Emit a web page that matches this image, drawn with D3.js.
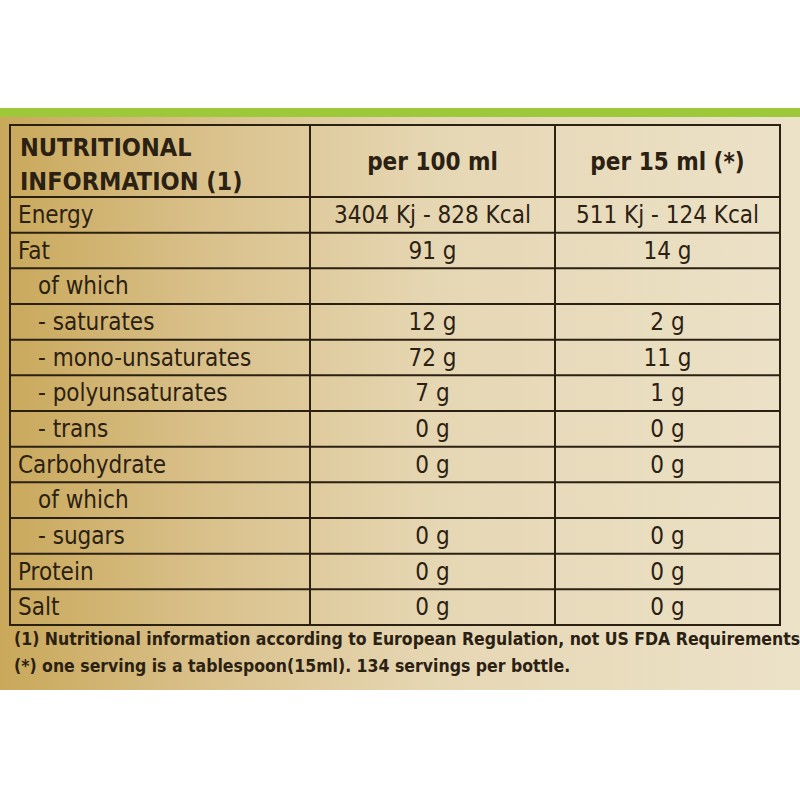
<!DOCTYPE html>
<html><head><meta charset="utf-8">
<script src="https://cdn.jsdelivr.net/npm/d3@7"></script>
<style>body{margin:0;background:#fff}</style></head>
<body><svg id="c" width="800" height="800"></svg>
<script>
const headers = ["NUTRITIONAL|INFORMATION (1)", "per 100 ml", "per 15 ml (*)"];
const labels = ["Energy","Fat","  of which","  - saturates","  - mono-unsaturates","  - polyunsaturates","  - trans","Carbohydrate","  of which","  - sugars","Protein","Salt"];
const per100 = ["3404 Kj - 828 Kcal","91 g","","12 g","72 g","7 g","0 g","0 g","","0 g","0 g","0 g"];
const per15 = ["511 Kj - 124 Kcal","14 g","","2 g","11 g","1 g","0 g","0 g","","0 g","0 g","0 g"];
const notes = ["(1) Nutritional information according to European Regulation, not US FDA Requirements.","(*) one serving is a tablespoon(15ml). 134 servings per bottle."];

const svg = d3.select("#c");
const defs = svg.append("defs");
const g = defs.append("linearGradient").attr("id","bg");
[["0%","#c9a85a"],["25%","#d9c08a"],["55%","#e6d7b4"],["100%","#ece2c8"]].forEach(s=>g.append("stop").attr("offset",s[0]).attr("stop-color",s[1]));
svg.append("rect").attr("x",0).attr("y",108).attr("width",800).attr("height",10).attr("fill","#9cc83a");
svg.append("rect").attr("x",0).attr("y",117).attr("width",800).attr("height",573).attr("fill","url(#bg)");

const ink = "#2b2112";
const colX = [10, 310, 555, 780];
const y = d3.scaleBand().domain(d3.range(labels.length)).range([197, 625]);
const tableTop = 125;
const L = svg.append("g").attr("stroke",ink).attr("stroke-width",2).attr("fill","none");
L.append("rect").attr("x",colX[0]).attr("y",tableTop).attr("width",colX[3]-colX[0]).attr("height",625-tableTop);
colX.slice(1,3).forEach(x=>L.append("line").attr("x1",x).attr("x2",x).attr("y1",tableTop).attr("y2",625));
d3.range(labels.length).forEach(i=>L.append("line").attr("x1",colX[0]).attr("x2",colX[3]).attr("y1",y(i)).attr("y2",y(i)));

const font = "'DejaVu Sans Condensed','DejaVu Sans',sans-serif";
const T = svg.append("g").attr("fill",ink).style("font-family",font);
headers[0].split("|").forEach((s,k)=>T.append("text").attr("x",20).attr("y",156+k*34).attr("font-size",25).attr("font-weight","bold").text(s));
[1,2].forEach(c=>T.append("text").attr("x",(colX[c]+colX[c+1])/2).attr("y",170).attr("text-anchor","middle").attr("font-size",24).attr("font-weight","bold").text(headers[c]));
labels.forEach((s,i)=>{
  const yy = y(i)+y.bandwidth()/2+8;
  const ind = s.startsWith("  ");
  T.append("text").attr("x",ind?38:18).attr("y",yy).attr("font-size",24).text(s.trim());
  T.append("text").attr("x",(colX[1]+colX[2])/2).attr("y",yy).attr("text-anchor","middle").attr("font-size",24).text(per100[i]);
  T.append("text").attr("x",(colX[2]+colX[3])/2).attr("y",yy).attr("text-anchor","middle").attr("font-size",24).text(per15[i]);
});
notes.forEach((s,k)=>T.append("text").attr("x",14).attr("y",645+k*27).attr("font-size",17.5).attr("font-weight","bold").text(s));
</script></body></html>
